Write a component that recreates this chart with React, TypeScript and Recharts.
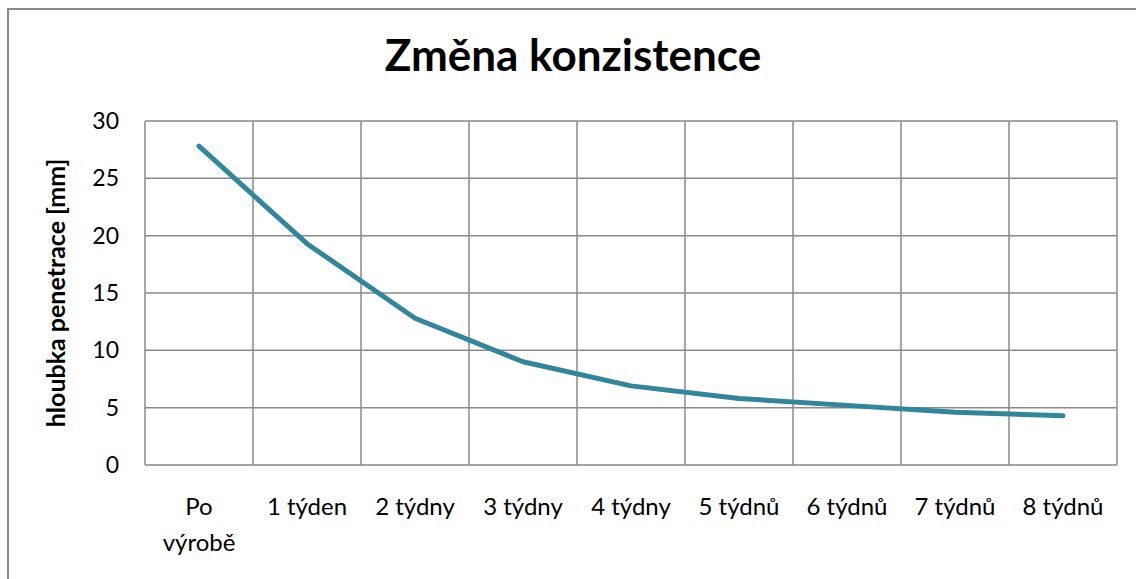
import { LineChart, Line, XAxis, YAxis, CartesianGrid } from "recharts";

const categories = [
  "Po výrobě",
  "1 týden",
  "2 týdny",
  "3 týdny",
  "4 týdny",
  "5 týdnů",
  "6 týdnů",
  "7 týdnů",
  "8 týdnů",
];
const penetration = [27.8, 19.3, 12.8, 9.0, 6.9, 5.8, 5.2, 4.6, 4.3];
const yTicks = [0, 5, 10, 15, 20, 25, 30];

const data = categories.map((name, i) => ({ name, value: penetration[i] }));

const FONT = "Lato, 'Open Sans', sans-serif";

// Excel wraps the first label onto two lines
function XTick(props: any) {
  const { x, y, payload } = props;
  const lines = payload.value === "Po výrobě" ? payload.value.split(" ") : [payload.value];
  return (
    <text x={x} y={y} textAnchor="middle" fontFamily={FONT} fontSize={24} fill="#000">
      {lines.map((l: string, i: number) => (
        <tspan key={i} x={x} dy={i === 0 ? 42 : 36}>
          {l}
        </tspan>
      ))}
    </text>
  );
}

export default function App() {
  return (
    <div
      style={{
        position: "absolute",
        left: 0,
        top: 0,
        width: 1136,
        height: 579,
        overflow: "hidden",
        background: "#fff",
      }}
    >
      <div
        style={{
          position: "absolute",
          left: 7,
          top: 8,
          width: 1200,
          height: 700,
          border: "2px solid #8a8a8a",
        }}
      />
      <svg
        width={1136}
        height={100}
        style={{ position: "absolute", left: 0, top: 0 }}
      >
        <text
          x={573}
          y={71}
          textAnchor="middle"
          fontFamily={FONT}
          fontWeight="bold"
          fontSize={44}
          fill="#000"
        >
          Změna konzistence
        </text>
      </svg>
      <div style={{ position: "absolute", left: 0, top: 0 }}>
        <LineChart
          width={1136}
          height={579}
          data={data}
          margin={{ top: 121, right: 19, left: 0, bottom: 0 }}
        >
          <CartesianGrid
            stroke="#8a8a8a"
            strokeWidth={1.5}
            verticalCoordinatesGenerator={({ offset }: any) =>
              categories
                .map((_, i) => offset.left + (i * offset.width) / categories.length)
                .concat(offset.left + offset.width)
            }
          />
          <XAxis
            dataKey="name"
            scale="band"
            axisLine={false}
            tickLine={false}
            interval={0}
            height={114}
            tick={<XTick />}
          />
          <YAxis
            domain={[0, 30]}
            ticks={yTicks}
            width={145}
            axisLine={false}
            tickLine={false}
            tickSize={0}
            tickMargin={26}
            tick={{ fontFamily: FONT, fontSize: 23, fill: "#000" }}
            label={{
              value: "hloubka penetrace [mm]",
              angle: -90,
              position: "insideLeft",
              offset: 56,
              style: {
                fontFamily: FONT,
                fontWeight: "bold",
                fontSize: 25,
                fill: "#000",
                textAnchor: "middle",
              },
            }}
          />
          <Line
            type="linear"
            dataKey="value"
            stroke="#31859C"
            strokeWidth={5}
            strokeLinecap="round"
            strokeLinejoin="round"
            dot={false}
            isAnimationActive={false}
          />
        </LineChart>
      </div>
    </div>
  );
}
